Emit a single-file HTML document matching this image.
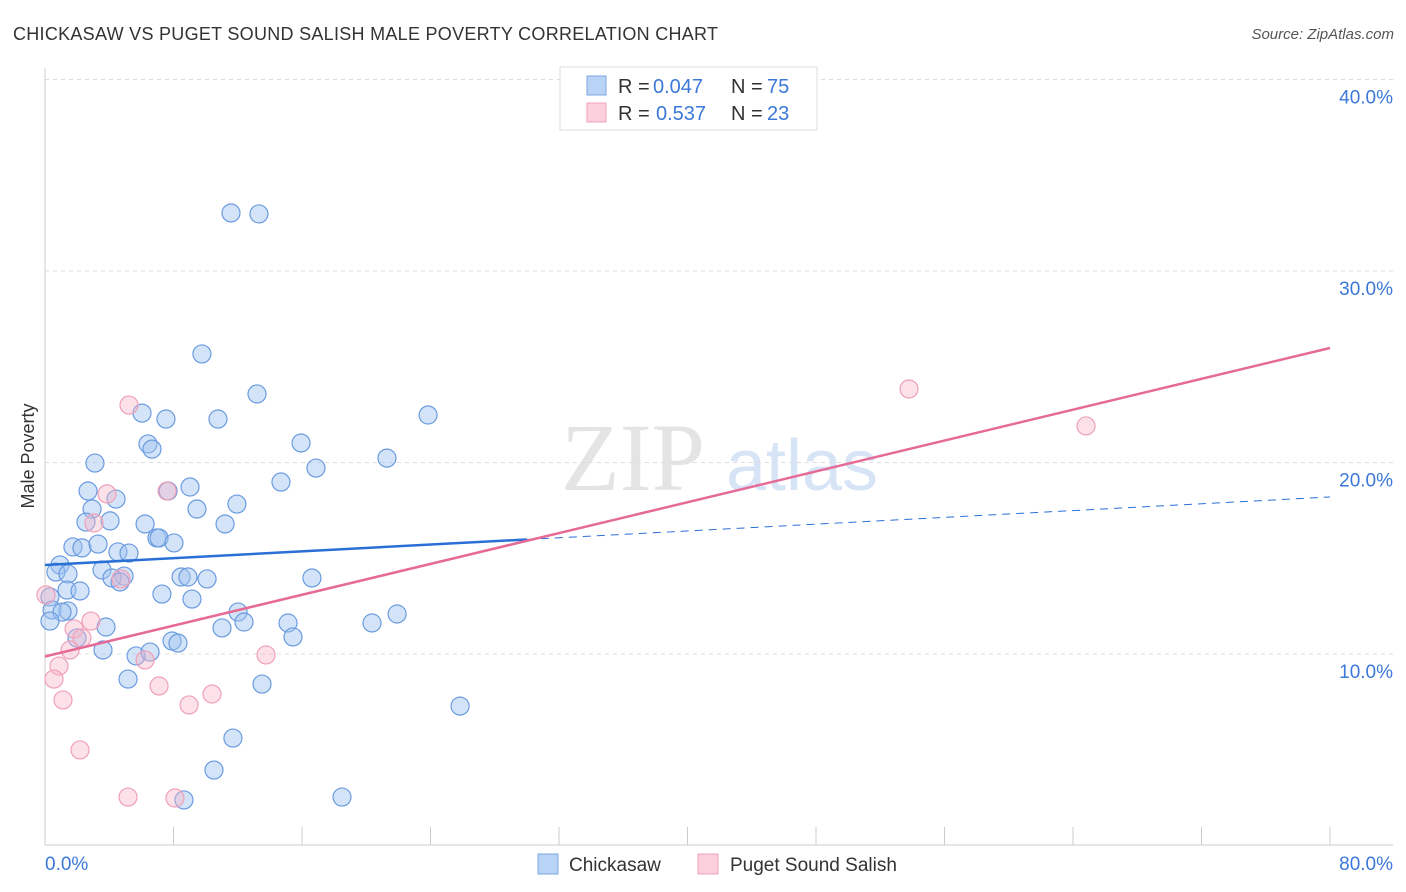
<!DOCTYPE html>
<html><head><meta charset="utf-8"><style>
body{margin:0;background:#fff;font-family:"Liberation Sans",sans-serif}
</style></head><body>
<svg id="chart" width="1406" height="892" xmlns="http://www.w3.org/2000/svg" style="display:block">
<text x="13" y="40" font-size="18" fill="#333" textLength="705">CHICKASAW VS PUGET SOUND SALISH MALE POVERTY CORRELATION CHART</text>
<text x="1394" y="39" font-size="15" fill="#555" text-anchor="end" font-style="italic">Source: ZipAtlas.com</text>
<g>
<text x="633" y="490" font-size="96" fill="#e4e4e4" font-family="Liberation Serif,serif" text-anchor="middle">ZIP</text>
<text x="802" y="490" font-size="72" fill="#d6e4f6" text-anchor="middle">atlas</text>
</g>
<g id="grid"></g>
<g id="axes"></g>
<g id="marks"></g>
<text transform="translate(34,456) rotate(-90)" font-size="18" fill="#333" text-anchor="middle">Male Poverty</text>
<g>
<rect x="560" y="67" width="257" height="63" fill="#fff" stroke="#ddd"/>
<rect x="587" y="76" width="19" height="19" fill="#b8d3f5" stroke="#7aa5e0"/>
<rect x="587" y="103" width="19" height="19" fill="#fcd0dc" stroke="#f0a0b8"/>
<text x="618" y="93" font-size="20" fill="#333">R =</text>
<text x="653" y="93" font-size="20" fill="#3b78d8">0.047</text>
<text x="731" y="93" font-size="20" fill="#333">N =</text>
<text x="767" y="93" font-size="20" fill="#3b78d8">75</text>
<text x="618" y="120" font-size="20" fill="#333">R =</text>
<text x="656" y="120" font-size="20" fill="#3b78d8">0.537</text>
<text x="731" y="120" font-size="20" fill="#333">N =</text>
<text x="767" y="120" font-size="20" fill="#3b78d8">23</text>
</g>
<g>
<rect x="538" y="854" width="20" height="20" fill="#b8d3f5" stroke="#7aa5e0"/>
<text x="569" y="871" font-size="19" fill="#333">Chickasaw</text>
<rect x="698" y="854" width="20" height="20" fill="#fcd0dc" stroke="#f0a0b8"/>
<text x="730" y="871" font-size="19" fill="#333">Puget Sound Salish</text>
</g>
</svg>
<script>
const yTicks=[10,20,30,40];
const yTickLabels=["10.0%","20.0%","30.0%","40.0%"];
const xTickVals=[0,8,16,24,32,40,48,56,64,72,80];
const blueX=[11.58,13.32,9.77,13.20,23.85,6.04,7.53,10.77,6.41,6.66,15.94,21.29,3.11,16.87,14.69,2.68,4.42,9.03,7.66,11.95,2.93,9.46,2.55,4.05,6.23,11.21,6.97,7.10,8.03,1.74,2.30,3.30,4.54,5.23,0.93,0.68,1.43,3.55,4.92,4.17,4.67,8.47,8.90,10.09,16.62,1.37,2.18,7.28,9.15,0.31,0.44,1.43,1.06,0.31,12.02,12.39,11.02,15.13,20.36,21.92,3.80,15.44,7.91,8.28,1.99,3.61,5.67,6.54,5.17,13.51,25.84,11.70,10.52,8.65,18.49];
const blueY=[33.03,32.98,25.67,23.58,22.48,22.58,22.27,22.27,20.97,20.70,21.02,20.23,19.97,19.71,18.98,18.51,18.09,18.72,18.51,17.83,17.57,17.57,16.89,16.95,16.79,16.79,16.06,16.06,15.80,15.59,15.54,15.74,15.33,15.27,14.65,14.28,14.18,14.39,14.07,13.97,13.76,14.02,14.02,13.92,13.97,13.34,13.29,13.13,12.87,12.98,12.30,12.25,12.19,11.72,12.19,11.67,11.36,11.62,11.62,12.09,11.41,10.89,10.68,10.57,10.84,10.21,9.90,10.10,8.69,8.43,7.28,5.61,3.94,2.38,2.53];
const pinkX=[53.79,64.81,5.23,3.86,7.60,3.05,4.73,2.86,1.81,2.30,1.56,0.06,0.87,0.56,13.76,6.23,7.10,10.40,1.12,8.97,2.18,5.17,8.09];
const pinkY=[23.84,21.91,23.00,18.36,18.51,16.84,13.92,11.72,11.31,10.84,10.21,13.08,9.37,8.69,9.95,9.69,8.33,7.91,7.60,7.34,4.99,2.53,2.48];
const blueTrend=[14.65,18.20]; const blueSolidEnd=30;
const pinkTrend=[9.87,25.98];
const NS="http://www.w3.org/2000/svg";
const xs=v=>45+v/80*1285, ys=v=>845.5-v*19.15;
function mk(p,t,a){const e=document.createElementNS(NS,t);for(const k in a)e.setAttribute(k,a[k]);p.appendChild(e);return e;}
const grid=document.getElementById('grid'),axes=document.getElementById('axes'),marks=document.getElementById('marks');
yTicks.forEach((v,i)=>{
 const l=mk(grid,'line',{x1:45,x2:1393,y1:ys(v),y2:ys(v),stroke:'#ddd','stroke-dasharray':'4,4'});
 
 
 const t=mk(axes,'text',{x:1393,y:ys(v)+24,'font-size':19,fill:'#3b78d8','text-anchor':'end'});
 t.textContent=yTickLabels[i];
 
 
});
mk(axes,'line',{x1:45,x2:45,y1:68,y2:845,stroke:'#ccc'});
mk(axes,'line',{x1:45,x2:1393,y1:845,y2:845,stroke:'#ccc'});
xTickVals.forEach(v=>{const l=mk(axes,'line',{x1:xs(v),x2:xs(v),y1:827,y2:845,stroke:'#ccc'});
 
 });
const x0=mk(axes,'text',{x:45,y:870,'font-size':19,fill:'#3b78d8'});x0.textContent='0.0%';


const x1=mk(axes,'text',{x:1393,y:870,'font-size':19,fill:'#3b78d8','text-anchor':'end'});x1.textContent='80.0%';


blueX.forEach((v,i)=>{const c=mk(marks,'circle',{cx:xs(v),cy:ys(blueY[i]),r:9,fill:'rgba(160,196,240,0.45)',stroke:'#6a9be0','stroke-width':1.2});
 
 });
pinkX.forEach((v,i)=>{const c=mk(marks,'circle',{cx:xs(v),cy:ys(pinkY[i]),r:9,fill:'rgba(248,180,200,0.4)',stroke:'#f0a0b8','stroke-width':1.2});
 
 });
const by=x=>blueTrend[0]+(blueTrend[1]-blueTrend[0])*x/80;
const b1=mk(marks,'line',{x1:xs(0),y1:ys(by(0)),x2:xs(blueSolidEnd),y2:ys(by(blueSolidEnd)),stroke:'#2a6fd6','stroke-width':2.5});


const b2=mk(marks,'line',{x1:xs(blueSolidEnd),y1:ys(by(blueSolidEnd)),x2:xs(80),y2:ys(by(80)),stroke:'#2a6fd6','stroke-width':1,'stroke-dasharray':'8,6'});


const p1=mk(marks,'line',{x1:xs(0),y1:ys(pinkTrend[0]),x2:xs(80),y2:ys(pinkTrend[1]),stroke:'#e66a96','stroke-width':2.5});


</script>
</body></html>
